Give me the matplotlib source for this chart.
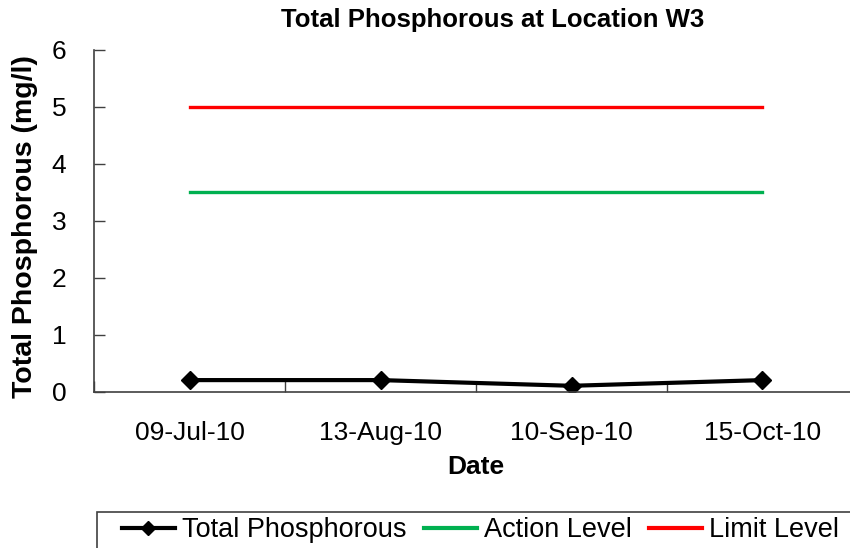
import matplotlib
matplotlib.use("Agg")
import matplotlib.pyplot as plt
from matplotlib.lines import Line2D
from matplotlib.patches import Rectangle

dates = ["09-Jul-10", "13-Aug-10", "10-Sep-10", "15-Oct-10"]
total_p = [0.2, 0.2, 0.1, 0.2]
action_level = [3.5, 3.5, 3.5, 3.5]
limit_level = [5, 5, 5, 5]

plt.rcParams['font.family'] = ['Liberation Sans', 'DejaVu Sans']

W, H = 850, 548
fig = plt.figure(figsize=(W / 100, H / 100), dpi=100)
left, right, top, bottom = 94, 858, 49.5, 391.5
ax = fig.add_axes([left / W, 1 - bottom / H, (right - left) / W, (bottom - top) / H])

x = list(range(len(dates)))
ax.plot(x, total_p, color='black', lw=3, marker='D', markersize=9, label='Total Phosphorous')
ax.plot(x, action_level, color='#00B050', lw=2.4, label='Action Level')
ax.plot(x, limit_level, color='#FF0000', lw=2.4, label='Limit Level')

ax.set_xlim(-0.5, len(dates) - 0.5)
ax.set_ylim(0, 6)
ax.set_yticks(range(0, 7))
ax.set_xticks(x)
ax.set_xticklabels(dates)
ax.set_xticks([i + 0.5 for i in range(-1, len(dates))], minor=True)
ax.tick_params(axis='x', which='major', length=0, pad=21, labelsize=19)
ax.tick_params(axis='x', which='minor', direction='in', length=8, width=1, color='#404040')
ax.tick_params(axis='y', direction='in', length=8, width=1, color='#404040', pad=20, labelsize=19)
for s in ['top', 'right']:
    ax.spines[s].set_visible(False)
for s in ['left', 'bottom']:
    ax.spines[s].set_color('#404040')
    ax.spines[s].set_linewidth(1.2)

fig.text(493 / W, 1 - 20 / H, 'Total Phosphorous at Location W3', fontsize=18.5,
         fontweight='bold', ha='center', va='center')
fig.text(476 / W, 1 - 467 / H, 'Date', fontsize=19, fontweight='bold', ha='center', va='center')
fig.text(25 / W, 1 - 227 / H, 'Total Phosphorous (mg/l)', fontsize=20.5, fontweight='bold',
         ha='center', va='center', rotation=90)

# legend frame (partly outside the figure, as in the reference)
fig.add_artist(Rectangle((97 / W, -0.1), 1.0, 1 - 512 / H + 0.1, transform=fig.transFigure,
                         fill=False, edgecolor='#404040', lw=1.2))
handles = [
    Line2D([], [], color='black', lw=3, marker='D', markersize=7),
    Line2D([], [], color='#00B050', lw=3),
    Line2D([], [], color='#FF0000', lw=3),
]
leg = fig.legend(handles, ['Total Phosphorous', 'Action Level', 'Limit Level'],
                 loc='center left', bbox_to_anchor=(122 / W, 1 - 530 / H), ncol=3,
                 frameon=False, fontsize=19.5,
                 handlelength=1.95, handletextpad=0.28, columnspacing=0.62,
                 borderpad=0, borderaxespad=0)

fig.savefig('out.png', dpi=100)
